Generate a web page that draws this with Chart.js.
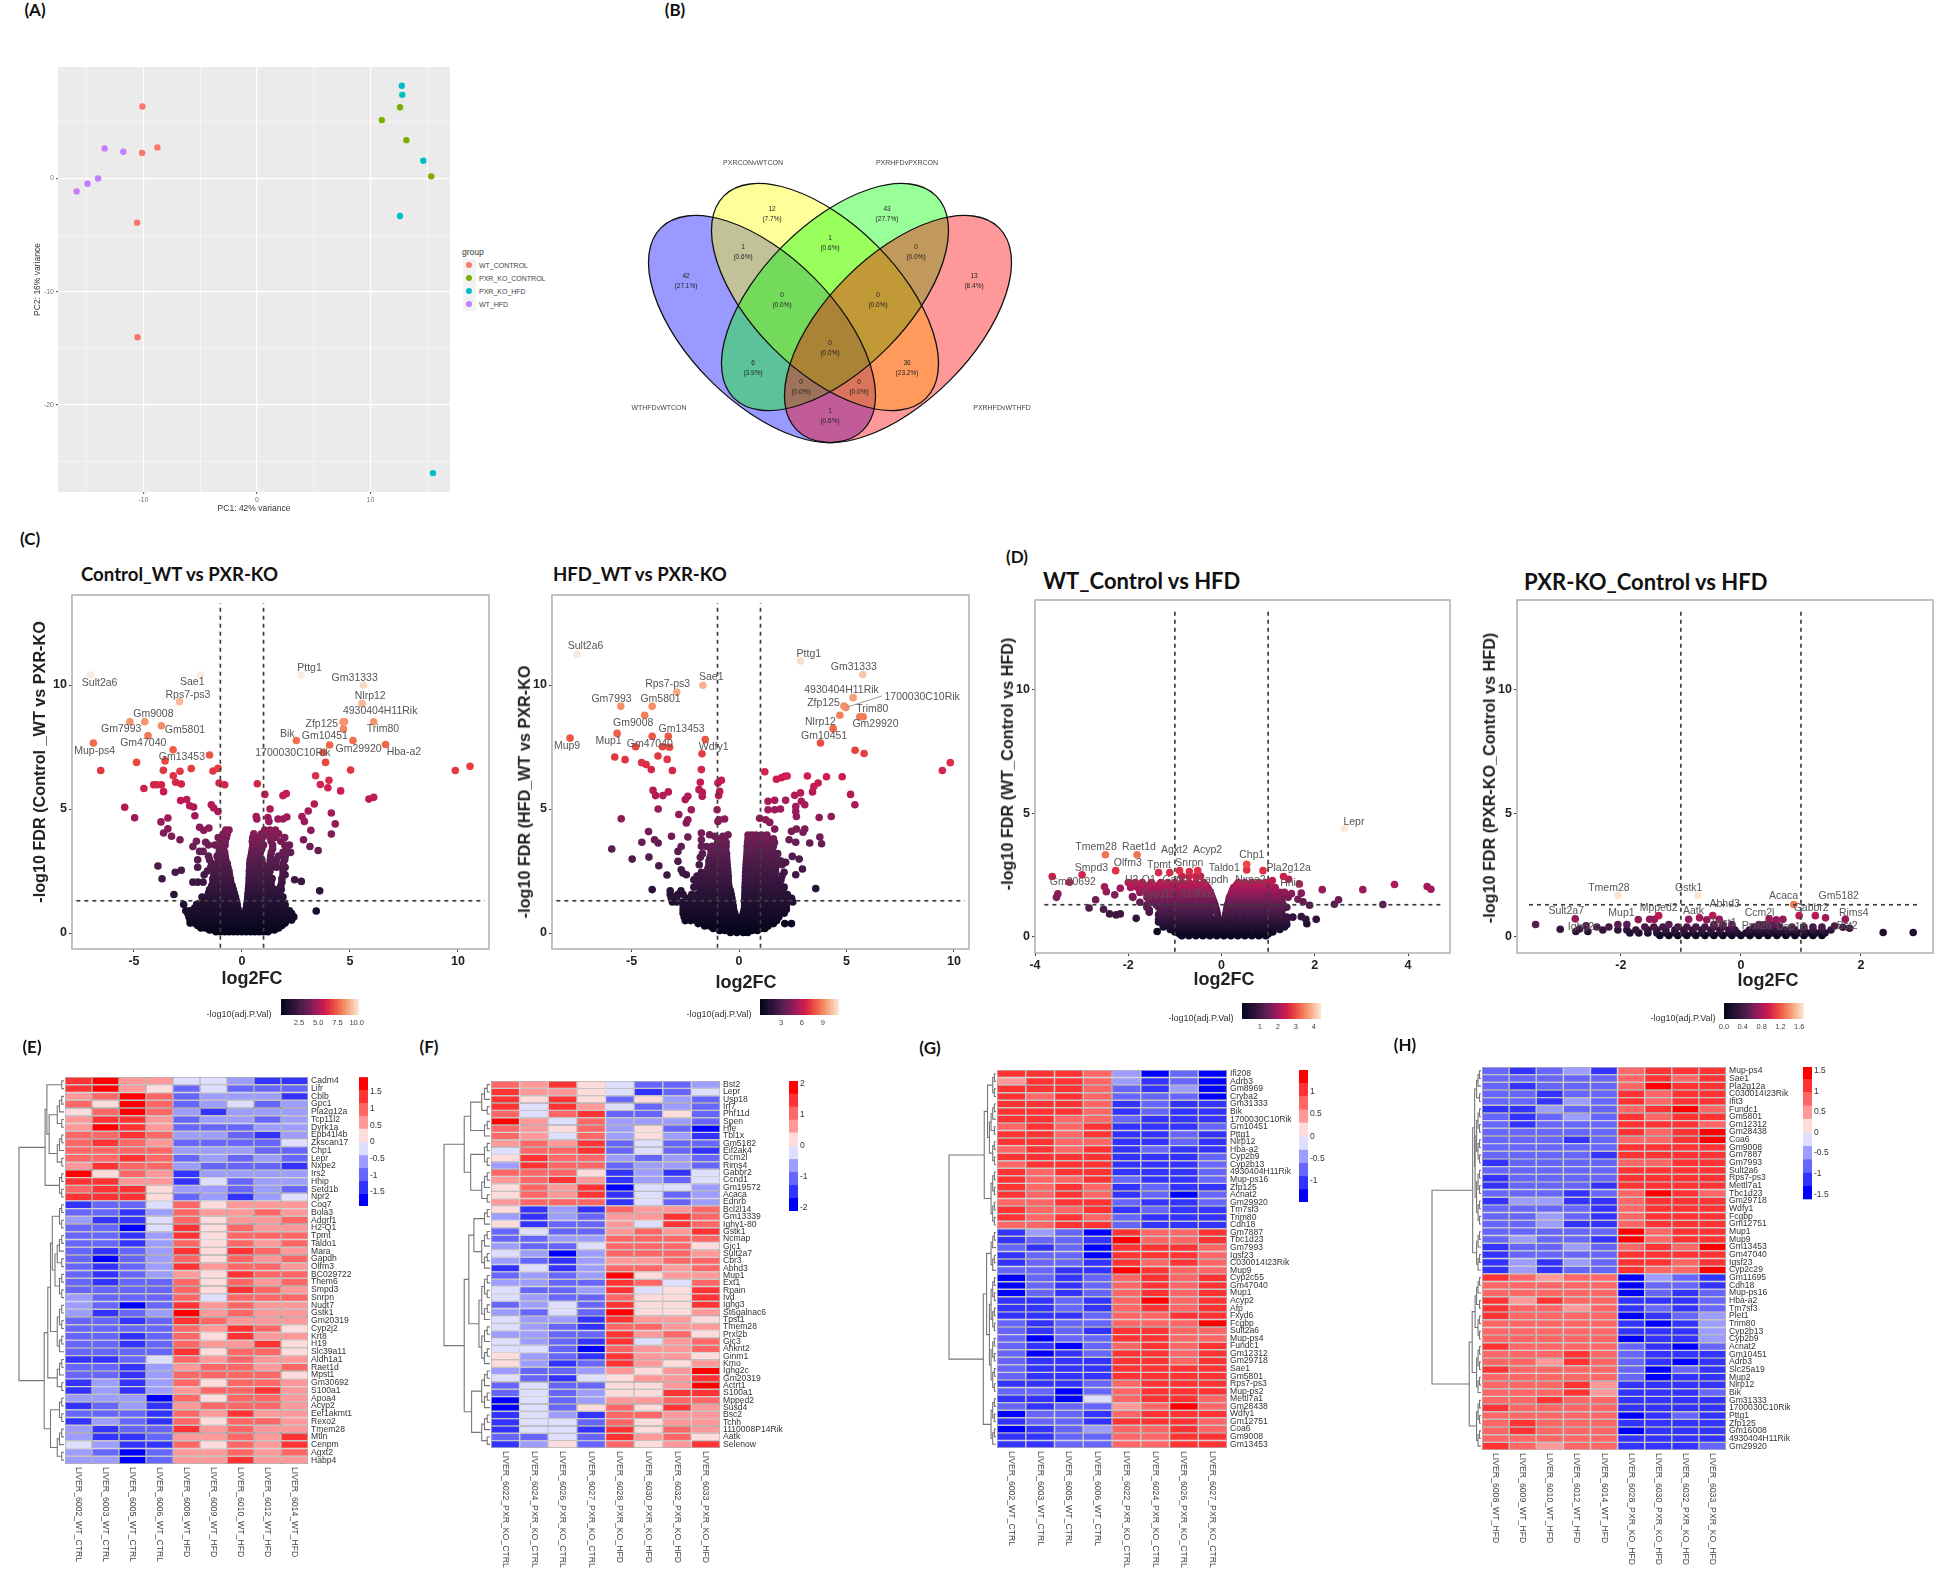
<!DOCTYPE html>
<html>
<head>
<meta charset="utf-8">
<title>PXR-KO liver figure</title>
<script src="https://cdn.jsdelivr.net/npm/chart.js@4"></script>
<style>
  html, body { margin: 0; background: #fff; }
  #page { position: relative; width: 1938px; height: 1576px; overflow: hidden; font-family: "Liberation Sans", Arial, sans-serif; }
  #page canvas { position: absolute; filter: blur(0.6px); }
  .txt { position: absolute; white-space: nowrap; line-height: 1; }
</style>
</head>
<body>
<div id="page"></div>
<script>
// ---------- PANEL A: PCA ----------
const pcaGroups = ['WT_CONTROL', 'PXR_KO_CONTROL', 'PXR_KO_HFD', 'WT_HFD'];
const pcaColors = ['#f8766d', '#7cae00', '#00bfc4', '#c77cff'];
const pcaWtControl = [[-10.07,6.35],[-8.75,2.74],[-10.1,2.24],[-10.54,-3.91],[-10.5,-14.03]];
const pcaKoControl = [[12.6,6.29],[11.0,5.15],[13.16,3.38],[15.35,0.18]];
const pcaKoHfd = [[12.76,8.18],[12.8,7.38],[14.65,1.56],[12.6,-3.32],[15.5,-26.03]];
const pcaWtHfd = [[-13.4,2.65],[-11.75,2.35],[-13.97,0],[-14.9,-0.47],[-15.86,-1.15]];

// ---------- PANEL B: VENN ----------
const vennSets = [['PXRCONvWTCON',153,63],['PXRHFDvPXRCON',307,63],['WTHFDvWTCON',59,308],['PXRHFDvWTHFD',402,308]];
const vennCounts = [
  ['12','(7.7%)',172,114],['43','(27.7%)',287,114],['1','(0.6%)',143,152],['1','(0.6%)',230,143],['0','(0.0%)',316,152],
  ['42','(27.1%)',86,181],['13','(8.4%)',374,181],['0','(0.0%)',182,200],['0','(0.0%)',278,200],['0','(0.0%)',230,248],
  ['6','(3.9%)',153,268],['36','(23.2%)',307,268],['0','(0.0%)',201,287],['0','(0.0%)',259,287],['1','(0.6%)',230,316]
];
// cx, cy, semi-major, semi-minor, rotation, colour (crop units)
const vennEllipses = [
  [162,229,143,73,45,'rgba(0,0,255,0.4)'],
  [225,197,143,73,45,'rgba(255,255,0,0.4)'],
  [235,197,143,73,-45,'rgba(0,255,0,0.4)'],
  [298,229,143,73,-45,'rgba(255,0,0,0.4)']
];

// ---------- PANEL C: CONTROL WT vs PXR-KO ----------
const volcCtrlPoints = [[-7,10.4],[-1.91,10.4],[-2.89,9.33],[2.73,10.39],[5.63,9.99],[5.56,9.25],[6.1,8.52],[4.75,8.52],[4.68,8.52],[4.7,8.23],[5.14,7.76],[6.65,7.6],[2.52,7.76],[4.06,7.58],[3.75,7.28],[3.87,6.88],[5.03,6.57],[9.88,6.55],[10.56,6.72],[-5.19,8.52],[-4.5,8.52],[-3.73,8.36],[-4.35,7.96],[-6.88,7.66],[-3.19,7.39],[-1.5,7.18],[-3.56,6.94],[-4.88,6.88],[-6.54,6.55],[-3.64,6.56],[-2.87,6.52],[-2.35,6.63],[-1.34,6.53],[-1.11,6.64],[-3.18,6.34],[-3.07,6.08],[-2.81,6.01],[-4.54,5.83],[-4.09,5.98],[-3.94,5.98],[-3.73,5.98],[-3.63,5.7],[-1.06,6.05],[-0.8,5.98],[0.71,6.02],[1.06,5.59],[1.9,5.54],[2.05,5.62],[3.41,6.34],[3.63,5.99],[4.03,6.16],[3.98,5.86],[4.57,5.73],[5.88,5.4],[6.1,5.47],[3.35,5.2],[3.07,4.92],[4.14,4.84],[2.78,4.7],[2.89,4.5],[4.32,4.4],[3.19,4.14],[4.14,3.99],[2.85,3.76],[3.15,3.49],[3.53,3.33],[1.3,5],[0.66,4.7],[0.69,4.6],[1.2,4.66],[1.25,4.5],[1.67,4.6],[1.9,4.6],[2.08,4.68],[-5.43,5.07],[-4.97,4.65],[-2.84,5.34],[-2.56,5.38],[-2.42,5.13],[-2.24,5.08],[-2.18,4.73],[-1.42,5.17],[-1.31,5.04],[-1.11,4.9],[-3.43,4.64],[-3.75,4.48],[-3.43,4.2],[-3.63,4.03],[-3.26,3.9],[-2.87,3.76],[-1.96,4.26],[-1.77,4.14],[-1.53,4.23],[-3.89,2.7],[-3.7,2.19],[-3.15,1.55],[3.6,1.7],[3.44,0.89],[-3.09,2.45],[-2.81,2.53],[2.44,2.15],[2.75,2.08],[-2.27,3.49],[-2.11,3.7],[-1.68,3.66],[-1.8,3.29],[-1.96,3.29]];
const volcCtrlCloud = [
  [4.15,-.75,-.6,1.05,1.3,1.55],
  [4,-.85,-.68,.55,.9,1.15,1.4,1.7],
  [3.85,-1.1,-.88,-.72,.5,.72,.95,1.3,1.55,1.98],
  [3.7,-1,-.78,.48,.7,.9,1.35,1.8],
  [3.55,-1.55,-1.25,-.92,-.78,.5,.75,1,1.42,1.98,2.2],
  [3.4,-1.05,-.85,.48,.68,.92,1.42,2.05],
  [3.25,-1.05,-.8,.45,.62,.85,1.36,1.9,2.05,2.25],
  [3.1,-1.55,-1.15,-.95,-.78,.42,.6,.82,1.33,1.7,2],
  [2.95,-2.05,-1.5,-1.1,-.92,-.75,.38,.55,.72,.92,1.31,1.6,1.98],
  [2.8,-1.4,-1.15,-.98,-.82,-.68,.36,.55,.75,.95,1.3,1.55,1.9],
  [2.65,-2.05,-1.45,-1.2,-1,-.82,-.65,.36,.52,.7,.88,1.1,1.35,1.6,1.9,2],
  [2.5,-1.6,-1.3,-1.1,-.9,-.75,-.6,.34,.5,.68,.86,1.05,1.3,1.9],
  [2.35,-1.75,-1.3,-1.1,-.9,-.72,-.58,.34,.48,.65,.82,1.02,1.25,1.9,2],
  [2.2,-1.35,-1.15,-.95,-.78,-.62,-.54,.33,.47,.63,.8,1,1.2,1.4,1.85],
  [2.05,-2.27,-2.05,-1.8,-1.34,-1.1,-.9,-.72,-.6,-.52,.33,.45,.6,.77,.95,1.15,1.35,1.85],
  [1.9,-1.4,-1.2,-1,-.82,-.66,-.52,-.45,.31,.43,.6,.78,.95,1.15,1.35,1.8],
  [1.75,-1.5,-1.3,-1.1,-.9,-.72,-.55,-.4,.3,.42,.58,.75,.92,1.1,1.3,1.55,1.82],
  [1.6,-1.55,-1.3,-1.1,-.9,-.72,-.55,-.35,.28,.4,.58,.75,.92,1.1,1.3,1.5,1.75],
  [1.45,-1.85,-1.6,-1.4,-1.2,-1,-.8,-.62,-.45,-.3,.27,.42,.6,.8,1,1.2,1.4,1.7,1.9],
  [1.3,-1.75,-1.5,-1.25,-1.05,-.85,-.65,-.45,-.26,.25,.42,.62,.82,1.02,1.22,1.42,1.65,1.85],
  [1.15,-2.7,-2.1,-1.85,-1.65,-1.45,-1.25,-1.05,-.85,-.65,-.45,-.22,.22,.42,.62,.82,1.02,1.22,1.42,1.62,1.82,2],
  [1,-2.2,-1.95,-1.7,-1.5,-1.3,-1.1,-.9,-.7,-.5,-.3,-.19,.2,.4,.6,.8,1,1.2,1.4,1.6,1.8,2],
  [.9,-2.6,-2.4,-2.1,-1.9,-1.7,-1.5,-1.3,-1.1,-.9,-.7,-.5,-.3,-.17,.18,.4,.6,.8,1,1.2,1.4,1.6,1.8,2,2.2],
  [.78,-2.5,-2.2,-2,-1.8,-1.6,-1.4,-1.2,-1,-.8,-.6,-.4,-.15,.15,.35,.55,.75,.95,1.15,1.35,1.55,1.75,1.95,2.3],
  [.65,-2.45,-2.25,-2.05,-1.85,-1.65,-1.45,-1.25,-1.05,-.85,-.65,-.45,-.25,-.12,.13,.3,.5,.7,.9,1.1,1.3,1.5,1.7,1.9,2.25,2.4],
  [.52,-2.4,-2.15,-1.95,-1.75,-1.55,-1.35,-1.15,-.95,-.75,-.55,-.35,-.1,.11,.3,.5,.7,.9,1.1,1.3,1.5,1.7,1.9,2.1,2.3],
  [.4,-2.4,-2.2,-2,-1.8,-1.6,-1.4,-1.2,-1,-.8,-.6,-.4,-.2,-.08,.1,.3,.5,.7,.9,1.1,1.3,1.5,1.7,2],
  [.3,-2.05,-1.85,-1.65,-1.45,-1.25,-1.05,-.85,-.65,-.45,-.25,-.06,.06,.25,.45,.65,.85,1.05,1.25,1.45,1.65,1.85],
  [.2,-1.9,-1.7,-1.5,-1.3,-1.1,-.9,-.7,-.5,-.3,-.1,.1,.3,.5,.7,.9,1.1,1.3,1.5,1.7],
  [.12,-1.5,-1.3,-1.1,-.9,-.7,-.5,-.3,-.1,.1,.3,.5,.7,.9,1.1,1.3,1.5],
  [.05,-1.2,-1,-.8,-.6,-.4,-.2,0,.2,.4,.6,.8,1,1.2]
];
const volcCtrlLabels = [['Sult2a6',-6.59,10.09],['Sae1',-2.3,10.12],['Rps7-ps3',-2.5,9.6],['Gm9008',-4.1,8.82],['Gm7993',-5.59,8.21],['Gm5801',-2.64,8.17],['Gm47040',-4.57,7.65],['Mup-ps4',-6.82,7.35],['Gm13453',-2.78,7.08],['Pttg1',3.13,10.69],['Gm31333',5.22,10.28],['Nlrp12',5.94,9.54],['4930404H11Rik',6.4,8.94],['Zfp125',3.7,8.44],['Trim80',6.53,8.21],['Bik',2.1,8.04],['Gm10451',3.84,7.93],['Gm29920',5.4,7.41],['Hba-a2',7.5,7.28],['1700030C10Rik',2.36,7.27]];

// ---------- PANEL C: HFD WT vs PXR-KO ----------
const volcHfdPoints = [[-7.53,11.24],[2.86,10.97],[5.76,10.42],[-1.68,9.99],[-2.9,9.72],[-5.5,9.14],[-4.04,9.14],[-4.39,8.78],[-5.67,8.05],[-4.04,7.93],[-3.29,7.93],[-7.86,7.86],[-1.57,7.8],[-4.81,7.51],[-3.56,7.51],[-3.23,7.49],[-3.77,7.14],[-3.34,7],[-5.78,7.1],[-5.3,6.99],[-1.72,7.23],[-4.53,6.87],[-4.32,6.79],[-4.08,6.59],[-3.1,6.55],[-1.75,6.59],[5.31,9.49],[4.88,9.15],[4.97,9.09],[4.69,8.78],[5.62,8.72],[5.78,8.72],[4.38,8.24],[3.79,7.66],[5.4,7.37],[5.82,7.24],[9.46,6.55],[9.83,6.87],[1.2,6.5],[1.74,6.2],[1.97,6.26],[2.13,6.32],[2.24,6.33],[3.18,6.33],[4.07,6.3],[4.8,6.3],[3.68,6.05],[3.48,5.91],[3.42,5.69],[2.86,5.65],[2.59,5.55],[2.17,5.35],[2.9,5.31],[3.06,5.17],[5.19,5.59],[5.39,5.17],[1.35,5.31],[1.66,5.35],[1.35,4.97],[1.66,4.97],[1.93,5],[2.64,5.1],[2.64,4.9],[2.67,4.7],[3.73,4.66],[4.29,4.7],[0.96,4.63],[1.24,4.57],[1.43,4.46],[1.66,4.19],[3.06,4.19],[2.98,4.06],[2.67,4.19],[2.44,4.1],[2.33,3.76],[2.64,3.66],[3.29,3.63],[3.76,3.87],[3.84,3.6],[2.48,3.09],[2.8,2.98],[2.17,2.85],[2.95,2.58],[2.64,2.35],[3.57,1.79],[2.13,0.38],[2.44,0.38],[-0.82,6.16],[-0.98,6.05],[-1.8,6.08],[-1.86,5.78],[-1.71,5.67],[-1.71,5.51],[-4,5.75],[-3.88,5.54],[-3.54,5.54],[-3.29,5.69],[-3.76,5],[-2.5,5.38],[-2.38,5.51],[-2.22,4.97],[-2.8,4.78],[-2.38,4.57],[-2.45,4.44],[-0.95,5.54],[-0.9,5.71],[-1.02,4.97],[-0.93,4.57],[-0.67,4.6],[-0.98,4.5],[-5.48,4.61],[-4.21,4.09],[-4.52,3.66],[-3.93,3.76],[-3.76,3.63],[-3.14,3.9],[-2.38,3.87],[-2.69,3.49],[-2.84,3.29],[-5.92,3.39],[-4.97,2.98],[-4.19,3.06],[-3.73,2.71],[-3.35,2.34],[-2.84,2.89],[-2.69,2.55],[-2.45,2.35],[-2.61,2.42],[-4.04,1.75],[-1.75,4.03],[-1.37,3.96],[-1.75,3.76],[-1.52,3.49],[-1.13,3.9],[-0.75,3.9],[-0.51,3.96]];
const volcHfdCloud = [
  [3.95,.42,.6,.8,1.05,1.3],
  [3.8,-.85,-.66,.42,.62,.85,1.1,1.35,1.6],
  [3.65,-1,-.72,-.6,.4,.6,.85,1.1,1.4,1.65],
  [3.5,-1.75,-1.25,-.95,-.75,-.6,.38,.58,.82,1.05,1.3,1.6],
  [3.35,-1.3,-1.05,-.85,-.62,.38,.55,.8,1.05,1.3,1.55],
  [3.2,-1.7,-1.3,-1.05,-.85,-.66,-.58,.37,.55,.78,1,1.25,1.5,1.8],
  [3.05,-1.8,-1.35,-1.1,-.88,-.7,-.58,.36,.52,.75,1,1.25,1.5,1.75],
  [2.9,-1.4,-1.15,-.92,-.72,-.56,.34,.5,.72,.96,1.2,1.45,1.7,1.95],
  [2.75,-1.85,-1.4,-1.15,-.92,-.72,-.55,.33,.48,.72,.96,1.2,1.45,1.7,2],
  [2.6,-1.45,-1.2,-.95,-.72,-.53,.32,.48,.7,.95,1.2,1.45,1.7],
  [2.45,-1.75,-1.45,-1.2,-.95,-.7,-.52,.31,.45,.7,.95,1.2,1.45,1.7,2.1],
  [2.3,-1.95,-1.6,-1.35,-1.1,-.85,-.65,-.5,.3,.45,.66,.9,1.15,1.4,1.65,2],
  [2.15,-2.1,-1.85,-1.6,-1.35,-1.1,-.85,-.62,-.5,.3,.42,.66,.9,1.15,1.4,1.65,1.95],
  [2,-1.95,-1.7,-1.45,-1.2,-.95,-.7,-.49,.29,.42,.64,.88,1.12,1.35,1.6,1.9],
  [1.85,-2.1,-1.85,-1.6,-1.35,-1.1,-.85,-.62,-.46,.28,.4,.62,.86,1.1,1.35,1.6,1.85,2.1],
  [1.7,-3.2,-2.7,-1.8,-1.55,-1.3,-1.05,-.8,-.55,-.4,.28,.38,.6,.84,1.08,1.32,1.56,1.8,2.05],
  [1.55,-3.2,-2.85,-2.6,-2.2,-1.95,-1.7,-1.45,-1.2,-.95,-.7,-.45,-.36,.27,.42,.65,.9,1.15,1.4,1.65,1.9,2.15,2.25],
  [1.4,-3.15,-2.9,-2.4,-2.1,-1.85,-1.6,-1.35,-1.1,-.85,-.6,-.33,.27,.45,.7,.95,1.2,1.45,1.7,1.95,2.2,2.45],
  [1.25,-3.1,-2.9,-2.6,-2.35,-2.05,-1.8,-1.55,-1.3,-1.05,-.8,-.55,-.3,.26,.45,.7,.95,1.2,1.45,1.7,1.95,2.2,2.5],
  [1.1,-2.6,-2.35,-2.1,-1.85,-1.6,-1.35,-1.1,-.85,-.6,-.4,-.27,.26,.45,.7,.95,1.2,1.45,1.7,1.95,2.2],
  [.95,-2.6,-2.4,-2.15,-1.9,-1.65,-1.4,-1.15,-.9,-.65,-.4,-.25,.24,.45,.7,.95,1.2,1.45,1.7,1.95,2.2],
  [.8,-2.6,-2.35,-2.1,-1.85,-1.6,-1.35,-1.1,-.85,-.6,-.35,-.2,.2,.35,.6,.85,1.1,1.35,1.6,1.85,2.1],
  [.65,-2.55,-2.3,-2.05,-1.8,-1.55,-1.3,-1.05,-.8,-.55,-.3,-.14,.14,.35,.6,.85,1.1,1.35,1.6,1.85],
  [.5,-2.5,-2.25,-2,-1.75,-1.5,-1.25,-1,-.75,-.5,-.25,-.1,.1,.25,.5,.75,1,1.25,1.5,1.75],
  [.38,-1.9,-1.65,-1.4,-1.15,-.9,-.65,-.4,-.15,.15,.4,.65,.9,1.15,1.4,1.6],
  [.28,-1.6,-1.35,-1.1,-.85,-.6,-.35,-.1,.1,.35,.6,.85,1.1,1.35],
  [.18,-1.2,-.95,-.7,-.45,-.2,0,.25,.5,.75,1,1.2],
  [.1,-.9,-.65,-.4,-.15,.1,.35,.6,.85],
  [.02,-.4,-.1,.2,.4]
];
const volcHfdLabels = [['Sult2a6',-7.14,11.56],['Pttg1',3.25,11.26],['Gm31333',5.34,10.71],['Sae1',-1.29,10.3],['Rps7-ps3',-3.32,10.03],['4930404H11Rik',4.77,9.78],['1700030C10Rik',8.52,9.53],['Gm7993',-5.93,9.42],['Gm5801',-3.65,9.42],['Zfp125',3.93,9.26],['Trim80',6.2,9.03],['Gm9008',-4.92,8.47],['Nlrp12',3.79,8.52],['Gm29920',6.35,8.41],['Gm13453',-2.67,8.24],['Gm10451',3.96,7.92],['Mup1',-6.07,7.72],['Gm47040',-4.15,7.62],['Mup9',-8,7.55],['Wdfy1',-1.18,7.5]];
const volcHfdLeader = [[4.97,9.09],[6.65,9.56]];

// ---------- PANEL D: WT CONTROL vs HFD ----------
const volcWtPoints = [[2.64,4.38],[-2.49,3.32],[-1.81,3.32],[.54,2.94],[.54,2.71],[.89,2.68],[-2.27,2.68],[-2.99,2.51],[-3.63,2.44],[-3.26,2.21],[-1.35,2.6],[-1.11,2.6],[-.9,2.68],[-.69,2.64],[-.51,2.68],[1.33,2.44],[1.44,2.33],[1.67,2.14],[1.09,2.28],[2.16,1.91],[3.03,1.91],[3.71,2.12],[4.41,2.04],[4.49,1.93],[3.46,1.31],[2.51,1.5],[2.42,1.32],[1.89,1.28],[1.5,1.75],[1.71,1.77],[1.43,1.6],[1.64,1.52],[1.75,1.42],[2.03,.71],[1.83,.53],[1.53,.8],[1.71,.82],[1.81,.71],[-3.51,1.74],[-3.54,1.6],[-2.84,1.17],[-2.7,1.5],[-2.53,1.12],[-2.4,.93],[-2.26,.89],[-2.17,.93],[-2.29,1.7],[-2.17,1.97],[-2.51,2.03],[-2.47,1.83],[-1.91,1.63],[-1.83,.75],[-1.38,.22]];
const volcWtCloud = [
  [2.45,-.85,-.7,-.55,-.45],
  [2.2,-2,-1.85,-1.7,-1.5,-1.3,-1.15,-1,-.85,-.7,-.55,-.38,.36,.5,.65,.8,.95],
  [2.1,-1.9,-1.75,-1.55,-1.35,-1.2,-1.05,-.9,-.75,-.6,-.45,-.34,.32,.46,.6,.75,.9,1.05],
  [2,-1.95,-1.8,-1.65,-1.5,-1.35,-1.2,-1.05,-.9,-.75,-.6,-.45,-.3,.26,.4,.55,.7,.85,1,1.15],
  [1.9,-1.75,-1.6,-1.45,-1.3,-1.15,-1,-.85,-.7,-.55,-.4,-.27,.24,.38,.53,.68,.83,.98,1.13],
  [1.8,-1.75,-1.6,-1.45,-1.3,-1.15,-1,-.85,-.7,-.55,-.4,-.24,.22,.36,.51,.66,.81,.96,1.11,1.25,1.35],
  [1.7,-1.55,-1.4,-1.25,-1.1,-.95,-.8,-.65,-.5,-.35,-.22,.2,.34,.49,.64,.79,.94,1.09,1.24],
  [1.6,-1.9,-1.6,-1.45,-1.3,-1.15,-1,-.85,-.7,-.55,-.4,-.2,.17,.32,.47,.62,.77,.92,1.07,1.22,1.3],
  [1.5,-1.45,-1.3,-1.15,-1,-.85,-.7,-.55,-.4,-.25,-.18,.16,.3,.45,.6,.75,.9,1.05,1.2],
  [1.4,-1.75,-1.5,-1.35,-1.2,-1.05,-.9,-.75,-.6,-.45,-.3,-.16,.15,.29,.44,.59,.74,.89,1.04,1.19,1.3],
  [1.3,-1.6,-1.4,-1.25,-1.1,-.95,-.8,-.65,-.5,-.35,-.2,-.14,.13,.27,.42,.57,.72,.87,1.02,1.17,1.32],
  [1.2,-1.6,-1.35,-1.2,-1.05,-.9,-.75,-.6,-.45,-.3,-.13,.12,.27,.42,.57,.72,.87,1.02,1.17,1.32,1.4],
  [1.1,-1.55,-1.3,-1.15,-1,-.85,-.7,-.55,-.4,-.25,-.11,.11,.25,.4,.55,.7,.85,1,1.15,1.3],
  [1,-1.55,-1.3,-1.15,-1,-.85,-.7,-.55,-.4,-.25,-.1,.1,.25,.4,.55,.7,.85,1,1.15,1.25],
  [.9,-1.35,-1.2,-1.05,-.9,-.75,-.6,-.45,-.3,-.09,.09,.25,.4,.55,.7,.85,1,1.15,1.3],
  [.8,-1.3,-1.15,-1,-.85,-.7,-.55,-.4,-.25,-.08,.08,.25,.4,.55,.7,.85,1,1.15,1.3,1.4],
  [.7,-1.35,-1.2,-1.05,-.9,-.75,-.6,-.45,-.3,-.15,-.06,.06,.2,.35,.5,.65,.8,.95,1.1,1.25,1.4],
  [.6,-1.35,-1.2,-1.05,-.9,-.75,-.6,-.45,-.3,-.15,-.05,.05,.15,.3,.45,.6,.75,.9,1.05,1.2,1.35],
  [.5,-1.25,-1.1,-.95,-.8,-.65,-.5,-.35,-.2,-.04,.04,.2,.35,.5,.65,.8,.95,1.1,1.25,1.4],
  [.4,-1.25,-1.1,-.95,-.8,-.65,-.5,-.35,-.2,-.03,.03,.2,.35,.5,.65,.8,.95,1.1,1.25,1.35],
  [.3,-1.1,-.95,-.8,-.65,-.5,-.35,-.2,-.05,.05,.2,.35,.5,.65,.8,.95,1.1,1.25],
  [.2,-1,-.85,-.7,-.55,-.4,-.25,-.1,.05,.2,.35,.5,.65,.8,.95,1.1],
  [.12,-.9,-.75,-.6,-.45,-.3,-.15,0,.15,.3,.45,.6,.75,.9,1],
  [.05,-.85,-.7,-.55,-.4,-.25,-.1,.05,.2,.35,.5,.65,.8,.95]
];
const volcWtLabels = [['Lepr',2.84,4.66],['Tmem28',-2.69,3.63],['Raet1d',-1.77,3.63],['Agxt2',-1.01,3.49],['Acyp2',-.3,3.49],['Chp1',.65,3.32],['Snrpn',-.69,2.98],['Olfm3',-2.01,3],['Tpmt',-1.34,2.9],['Smpd3',-2.79,2.79],['Taldo1',.06,2.78],['Pla2g12a',1.44,2.78],['Gm30692',-3.19,2.2],['H2-Q1',-1.74,2.28],['Gstk1',-.97,2.28],['Gapdh',-.19,2.28],['Nxpe2',.62,2.28],['Hhip',1.49,2.17],['Cyp2j2',-1.36,1.74],['S100a1',-.51,1.74]];

// ---------- PANEL D: PXR-KO CONTROL vs HFD ----------
const volcKoPoints = [[-2.05,1.68],[-.72,1.68],[.88,1.31],[-2.76,.73],[-3.42,.5],[-3.01,.31],[-1.71,.7],[-1.52,.71],[-1.44,.71],[-1.37,.86],[-.87,.71],[-.69,.77],[-.57,.69],[-.47,.86],[-.36,.71],[.47,.73],[.59,.69],[.7,.71],[.97,.86],[1.24,.86],[1.41,.77],[1.74,.71],[2.37,.18],[2.87,.18],[1.81,.35],[1.7,.39],[1.56,.44],[-2.58,.45],[-2.69,.32],[-2.55,.22],[-2.75,.22]];
const volcKoCloud = [
  [.5,-2.05,-1.9,-1.2,-.45,-.3,-.15,.3,.4,.5,.6],
  [.4,-2.4,-2.2,-1.6,-1.45,-1.3,-1.05,-.9,-.75,-.6,-.45,-.3,-.15,.22,.35,.5,.65,.85,1.05,1.2,1.35],
  [.28,-2.3,-2.05,-1.9,-1.75,-1.55,-1.4,-1.25,-1.1,-.95,-.8,-.65,-.5,-.35,-.2,-.1,.14,.3,.45,.6,.75,.9,1.05,1.2,1.35,1.5],
  [.16,-1.85,-1.7,-1.55,-1.4,-1.25,-1.1,-.95,-.8,-.65,-.5,-.35,-.2,-.06,.08,.22,.36,.5,.65,.8,.95,1.1,1.25,1.4],
  [.06,-1.35,-1.2,-1.05,-.9,-.75,-.6,-.45,-.3,-.15,0,.15,.3,.45,.6,.75,.9,1.05,1.2,1.35]
];
const volcKoLabels = [['Tmem28',-2.2,1.99],['Gstk1',-.87,1.99],['Acaca',.71,1.67],['Gm5182',1.63,1.67],['Abhd3',-.27,1.33],['Sult2a7',-2.91,1.05],['Mup1',-1.99,.98],['Mpped2',-1.37,1.16],['Aatk',-.79,1.05],['Ccm2l',.31,.98],['Gabbr2',1.17,1.16],['Rims4',1.88,.98],['Ighg2c',-2.62,.39],['Tpst1',-.29,.55],['Prxl2b',.26,.42],['Usp18',.84,.39],['Bst2',1.77,.42]];

// ---------- HEATMAPS: levels are the colour-key bins, -5 (deepest blue) to 5 (deepest red) ----------
const genesE = ['Cadm4','Lifr','Cblb','Gpc1','Pla2g12a','Tcp11l2','Dyrk1a','Epb41l4b','Zkscan17','Chp1','Lepr','Nxpe2','Irs2','Hhip','Setd1b','Npr2','Coq7','Bola3','Adgrf1','H2-Q1','Tpmt','Taldo1','Mara','Gapdh','Olfm3','BC029722','Them6','Smpd3','Snrpn','Nudt7','Gstk1','Gm20319','Cyp2j2','Krt8','H19','Slc39a11','Aldh1a1','Raet1d','Mpst1','Gm30692','S100a1','Apoa4','Acyp2','Eef1akmt1','Rexo2','Tmem28','Mtln','Cenpm','Agxt2','Habp4'];
const samplesE = ['LIVER_6002_WT_CTRL','LIVER_6003_WT_CTRL','LIVER_6005_WT_CTRL','LIVER_6006_WT_CTRL','LIVER_6008_WT_HFD','LIVER_6009_WT_HFD','LIVER_6010_WT_HFD','LIVER_6012_WT_HFD','LIVER_6014_WT_HFD'];
const heatE = [
[4,5,2,2,-1,-1,-2,-4,-4],[4,5,2,1,-3,-1,-3,-3,-3],[2,3,5,3,-3,-2,-2,-2,-4],[3,1,5,3,-3,-2,-1,-3,-2],[1,3,5,3,-2,-4,-2,-2,-2],
[2,4,4,2,-3,-2,-2,-3,-2],[2,5,4,2,-3,-3,-3,-2,-2],[3,3,4,3,-2,-2,-3,-4,-2],[3,4,3,2,-3,-3,-3,-3,-1],[3,3,3,3,-2,-2,-2,-3,-3],
[3,3,4,3,-3,-2,-3,-2,-3],[2,4,3,3,-2,-3,-3,-3,-4],[5,1,3,2,-4,-2,-2,-2,-2],[4,4,2,2,-4,-1,-3,-2,-2],[3,4,4,1,-2,-2,-3,-2,-3],
[4,4,4,1,-3,-2,-4,-2,-1],[-4,-3,-3,-1,3,1,2,2,2],[-3,-3,-4,-2,3,2,2,3,2],[-2,-4,-4,-1,3,1,2,2,3],[-3,-3,-5,-1,4,1,3,2,2],
[-3,-3,-4,-2,4,1,3,3,3],[-3,-3,-4,-2,3,1,3,2,3],[-3,-4,-3,-2,4,1,4,3,2],[-3,-5,-3,-2,3,1,3,2,3],[-3,-4,-3,-2,4,2,3,3,2],
[-3,-4,-3,-2,2,1,4,3,3],[-3,-4,-3,-3,3,1,3,2,3],[-3,-3,-3,-3,3,1,4,3,2],[-2,-3,-3,-3,3,-1,3,3,3],[-2,-3,-5,-3,4,2,3,2,2],
[-2,-4,-3,-2,5,2,3,2,2],[-3,-3,-4,-3,4,3,2,2,2],[-3,-3,-3,-3,3,2,4,3,1],[-3,-3,-4,-3,3,1,4,2,2],[-3,-3,-4,-3,3,2,2,4,1],
[-3,-3,-3,-3,4,1,3,3,1],[-4,-4,-3,-1,3,2,3,2,2],[-3,-3,-4,-2,2,3,3,2,3],[-3,-3,-4,-2,3,3,3,3,1],[-4,-2,-4,-2,3,1,3,3,2],
[-4,-2,-4,-2,2,3,3,4,2],[-2,-2,-2,-5,3,1,3,3,2],[-4,-3,-2,-4,2,3,3,3,2],[-3,-3,-3,-4,3,2,4,2,2],[-4,-2,-3,-4,3,1,3,3,2],
[-2,-4,-3,-3,4,2,3,2,2],[-2,-4,-4,-3,2,2,3,2,4],[-1,-2,-4,-4,3,1,3,2,4],[-2,-3,-5,-3,2,2,3,2,3],[-2,-2,-5,-3,2,2,4,2,2]];

const genesF = ['Bst2','Lepr','Usp18','Irf7','Phf11d','Spen','Hfe','Tbl1x','Gm5182','Eif2ak4','Ccm2l','Rims4','Gabbr2','Ccnd1','Gm19572','Acaca','Ednrb','Bcl2l14','Gm13339','Ighv1-80','Gstk1','Ncmap','Gjc1','Sult2a7','Cbr3','Abhd3','Mup1','Ext1','Rpain','Ivd','Ighg3','St6galnac6','Tpst1','Tmem28','Prxl2b','Gjc3','Ahknt2','Ginm1','Kmo','Ighg2c','Gm20319','Actrt1','S100a1','Mpped2','Susd4','Bsc2','Tchh','1110008P14Rik','Aatk','Selenow'];
const samplesF = ['LIVER_6022_PXR_KO_CTRL','LIVER_6024_PXR_KO_CTRL','LIVER_6026_PXR_KO_CTRL','LIVER_6027_PXR_KO_CTRL','LIVER_6028_PXR_KO_HFD','LIVER_6030_PXR_KO_HFD','LIVER_6032_PXR_KO_HFD','LIVER_6033_PXR_KO_HFD'];
const heatF = [
[3,2,4,1,-1,-3,-3,-2],[4,2,2,1,-1,-4,-3,-1],[4,1,4,1,-3,1,-2,-3],[4,-1,4,2,-1,-3,-2,-3],[3,-1,3,4,-3,-3,1,-3],
[5,2,-1,3,-2,-2,-2,-3],[3,2,1,3,-2,1,-3,-5],[3,2,-1,3,-2,1,-2,-4],[2,3,2,4,-3,-1,-3,-3],[-1,3,3,4,-3,-1,-3,-4],
[1,4,3,3,-2,-3,-2,-3],[-2,4,3,3,-3,-2,-2,-3],[3,3,3,1,-4,-2,-4,-1],[2,3,4,2,-4,-2,-3,-1],[1,3,2,4,-5,-1,-1,-2],
[1,3,2,4,-4,-1,-3,-2],[2,3,3,3,-4,-1,-3,-2],[1,-4,-2,-4,3,2,2,3],[-2,-4,-2,-3,2,2,4,3],[1,-4,-3,-3,2,-1,4,3],
[-3,-1,-3,-3,2,3,2,4],[-3,-3,-2,-2,3,3,3,3],[-2,-3,-3,-1,3,3,3,1],[-1,-2,-5,-2,3,3,3,2],[-2,-3,-4,-2,2,2,3,3],
[-4,-1,-4,-2,3,3,2,3],[-3,-2,-3,-2,5,1,2,2],[-2,-2,-3,-3,4,3,-1,3],[-1,-3,-3,-2,4,-1,1,4],[-1,-2,-3,-3,3,1,1,4],
[-3,-2,-1,-3,4,1,1,4],[-2,-3,-1,-3,5,1,1,2],[-1,-2,-2,-4,4,2,2,1],[-1,-2,-3,-4,3,3,2,2],[-2,-2,-3,-3,4,2,3,1],
[-1,-2,-3,-4,4,-1,2,3],[-1,-1,-3,-5,3,2,2,3],[1,-2,-3,-4,4,2,2,1],[1,-2,-4,-3,4,2,1,2],[-2,-3,-3,-2,2,1,2,5],
[-1,-3,-4,-1,1,2,2,4],[-3,-1,-3,-3,1,1,2,5],[-3,-1,-3,-2,1,1,4,4],[-5,-1,-3,-2,2,2,3,3],[-5,-1,-3,1,3,1,4,2],
[-4,-1,-2,-4,3,3,2,2],[-4,-1,-1,-3,3,1,2,2],[-4,-1,-1,-4,4,1,3,2],[-3,-3,-1,-3,4,2,3,1],[-4,-2,1,-3,3,1,2,4]];

const genesG = ['Ifi208','Adrb3','Gm8969','Cryba2','Gm31333','Bik','1700030C10Rik','Gm10451','Pttg1','Nlrp12','Hba-a2','Cyp2b9','Cyp2b13','4930404H11Rik','Mup-ps16','Zfp125','Acnat2','Gm29920','Tm7sf3','Trim80','Cdh18','Gm7887','Tbc1d23','Gm7993','Igsf23','C030014I23Rik','Mup9','Cyp2c55','Gm47040','Mup1','Acyp2','Afp','Fxyd6','Fcgbp','Sult2a6','Mup-ps4','Fundc1','Gm12312','Gm29718','Sae1','Gm5801','Rps7-ps3','Mup-ps2','Mettl7a1','Gm28438','Wdfy1','Gm12751','Coa6','Gm9008','Gm13453'];
const samplesG = ['LIVER_6002_WT_CTRL','LIVER_6003_WT_CTRL','LIVER_6005_WT_CTRL','LIVER_6006_WT_CTRL','LIVER_6022_PXR_KO_CTRL','LIVER_6024_PXR_KO_CTRL','LIVER_6026_PXR_KO_CTRL','LIVER_6027_PXR_KO_CTRL'];
const heatG = [
[4,4,4,3,-2,-5,-3,-5],[2,4,4,3,-2,-4,-3,-5],[4,4,4,3,-3,-4,-2,-5],[4,3,4,3,-3,-3,-3,-5],[4,4,4,3,-4,-3,-4,-4],
[4,4,4,3,-4,-3,-4,-4],[4,4,3,3,-3,-4,-4,-4],[3,4,3,4,-4,-4,-4,-3],[4,4,3,4,-4,-4,-3,-4],[4,4,3,3,-4,-4,-3,-4],
[3,4,3,4,-4,-3,-4,-4],[4,4,4,4,-4,-4,-4,-3],[3,4,4,4,-4,-4,-4,-3],[4,3,4,4,-4,-4,-4,-3],[4,3,3,4,-3,-4,-4,-3],
[4,3,4,3,-4,-3,-4,-4],[4,3,4,3,-4,-3,-5,-3],[3,3,4,4,-3,-4,-4,-3],[4,3,3,4,-4,-3,-4,-4],[4,3,4,3,-3,-4,-4,-4],
[3,3,4,4,-3,-4,-4,-4],[-4,-2,-3,-5,4,3,3,4],[-4,-3,-3,-4,5,3,3,4],[-3,-4,-3,-5,4,4,4,3],[-4,-3,-3,-5,4,4,4,3],
[-4,-3,-3,-4,4,3,4,3],[-3,-3,-4,-4,5,4,3,3],[-5,-3,-4,-3,3,4,3,4],[-5,-3,-4,-3,3,4,3,4],[-5,-3,-4,-3,3,4,3,4],
[-4,-4,-3,-4,3,5,3,4],[-4,-4,-3,-4,3,4,3,4],[-4,-4,-4,-3,3,3,4,4],[-3,-4,-3,-3,3,3,3,5],[-3,-4,-3,-4,4,4,3,3],
[-3,-5,-3,-3,4,4,3,3],[-3,-4,-5,-3,3,4,3,4],[-3,-5,-4,-3,4,4,3,4],[-3,-4,-4,-4,4,4,3,4],[-3,-4,-4,-4,4,4,4,4],
[-3,-4,-4,-4,4,4,4,4],[-4,-4,-4,-3,3,4,4,4],[-3,-3,-5,-3,3,4,4,4],[-4,-4,-5,-1,3,4,4,3],[-3,-4,-3,-3,2,3,5,3],
[-5,-3,-3,-4,3,4,4,4],[-4,-3,-3,-4,4,4,4,3],[-5,-4,-3,-2,3,3,4,3],[-4,-4,-3,-3,3,3,4,4],[-4,-4,-3,-3,3,3,4,4]];

const genesH = ['Mup-ps4','Sae1','Pla2g12a','C030014I23Rik','Ifit3','Fundc1','Gm5801','Gm12312','Gm28438','Coa6','Gm9008','Gm7887','Gm7993','Sult2a6','Rps7-ps3','Mettl7a1','Tbc1d23','Gm29718','Wdfy1','Fcgbp','Gm12751','Mup1','Mup9','Gm13453','Gm47040','Igsf23','Cyp2c29','Gm11695','Cdh18','Mup-ps16','Hba-a2','Tm7sf3','Plet1','Trim80','Cyp2b13','Cyp2b9','Acnat2','Gm10451','Adrb3','Slc25a19','Mup2','Nlrp12','Bik','Gm31333','1700030C10Rik','Pttg1','Zfp125','Gm16008','4930404H11Rik','Gm29920'];
const samplesH = ['LIVER_6008_WT_HFD','LIVER_6009_WT_HFD','LIVER_6010_WT_HFD','LIVER_6012_WT_HFD','LIVER_6014_WT_HFD','LIVER_6028_PXR_KO_HFD','LIVER_6030_PXR_KO_HFD','LIVER_6032_PXR_KO_HFD','LIVER_6033_PXR_KO_HFD'];
const heatH = [
[-3,-4,-3,-2,-4,3,4,4,4],[-3,-3,-3,-3,-3,3,4,3,4],[-3,-4,-3,-3,-3,3,5,4,4],[-3,-3,-4,-3,-3,4,3,4,4],[-3,-3,-4,-2,-3,4,3,4,4],
[-4,-4,-2,-3,-3,3,4,5,3],[-3,-4,-3,-2,-3,4,3,4,4],[-3,-4,-3,-3,-3,4,4,4,3],[-3,-3,-3,-3,-3,4,3,4,5],[-3,-3,-3,-4,-3,3,3,4,5],
[-3,-3,-3,-3,-3,4,4,4,4],[-3,-3,-3,-3,-4,4,4,4,4],[-4,-3,-3,-3,-3,3,3,4,4],[-3,-3,-3,-3,-3,4,4,4,4],[-4,-3,-3,-3,-3,4,4,4,4],
[-4,-3,-3,-3,-4,4,4,4,4],[-3,-3,-3,-4,-3,3,5,4,3],[-4,-2,-2,-4,-4,3,4,4,4],[-3,-3,-3,-3,-4,3,4,4,4],[-3,-3,-2,-3,-4,3,4,4,4],
[-3,-3,-2,-4,-4,3,4,4,4],[-3,-3,-3,-3,-3,5,3,4,4],[-3,-2,-3,-3,-4,5,3,4,4],[-4,-3,-3,-2,-3,3,4,3,5],[-4,-3,-3,-3,-3,4,4,4,4],
[-4,-2,-4,-2,-3,4,4,3,4],[-4,-2,-4,-3,-3,4,3,3,5],[4,3,2,3,3,-5,-2,-3,-4],[3,3,3,3,3,-5,-3,-3,-4],[3,3,3,3,3,-5,-3,-4,-3],
[4,2,4,3,3,-4,-4,-4,-3],[4,3,3,2,3,-4,-3,-4,-3],[4,3,3,3,3,-5,-4,-3,-2],[3,3,3,3,3,-4,-5,-4,-2],[3,3,3,3,3,-4,-4,-4,-2],
[3,3,3,3,3,-5,-4,-4,-2],[4,3,3,3,3,-3,-4,-5,-3],[3,3,3,4,3,-3,-4,-4,-4],[3,3,2,4,3,-3,-4,-5,-4],[4,3,3,3,3,-3,-5,-3,-4],
[3,3,3,3,3,-3,-5,-4,-4],[3,3,3,4,2,-4,-4,-4,-4],[3,3,3,4,2,-4,-4,-4,-3],[3,3,4,3,3,-4,-4,-4,-4],[4,3,3,3,3,-4,-4,-4,-4],
[3,3,3,3,3,-5,-4,-3,-4],[3,4,3,3,3,-4,-4,-4,-4],[3,4,3,3,3,-5,-4,-4,-4],[3,3,3,3,3,-4,-4,-4,-4],[4,3,2,3,3,-4,-4,-4,-3]];

// dendrograms: [height, left, right]; a plain number is that many rows joined tightly
const treeE = [1,[.42,[.38,2,[.33,5,5]],4],[.44,[.36,[.3,[.26,4,9],7],5],[.3,4,5]]];
const treeF = [1,[.56,[.42,5,3],[.42,4,5]],[.56,[.46,[.35,3,6],13],[.4,6,5]]];
const treeG = [1,[.25,[.18,4,9],8],[.27,[.2,6,16],7]];
const treeH = [1,[.17,[.13,5,16],6],[.24,[.18,9,7],7]];

const keyTicksE = [1.5,1,.5,0,-.5,-1,-1.5];
const keyTicksF = [2,1,0,-1,-2];
const keyTicksG = [1,.5,0,-.5,-1];
const keyTicksH = [1.5,1,.5,0,-.5,-1,-1.5];
const heatLevels = [1,2,3,4,5,-1,-2,-3,-4,-5];
const heatColors = {'5':'#ff0000','4':'#ff3333','3':'#ff6666','2':'#ff9999','1':'#ffdcdc','-1':'#dedeff','-2':'#9d9dff','-3':'#6666ff','-4':'#3333ff','-5':'#0000ff'};

// ---------- SHARED ----------
Chart.defaults.font.family = '"Liberation Sans", Arial, sans-serif';
Chart.defaults.animation = false;
Chart.defaults.responsive = false;
Chart.defaults.layout.autoPadding = false;
Chart.defaults.plugins.legend.display = false;
Chart.defaults.plugins.tooltip.enabled = false;

const page = document.getElementById('page');
const rocketStops = [[0,[3,5,26]],[.15,[43,19,56]],[.3,[91,30,81]],[.45,[161,26,91]],[.55,[203,27,79]],[.65,[232,63,63]],[.75,[243,112,79]],[.85,[246,164,123]],[1,[250,235,221]]];

function rocket(t) {
  t = Math.max(0, Math.min(1, t));
  for (let i = 1; i < rocketStops.length; i++) {
    const [t1, c1] = rocketStops[i];
    const [t0, c0] = rocketStops[i - 1];
    if (t <= t1) {
      const f = (t - t0) / (t1 - t0);
      return `rgb(${c0.map((c, k) => Math.round(c + (c1[k] - c) * f)).join(',')})`;
    }
  }
  return 'rgb(250,235,221)';
}

function put(text, x, y, css, rotate) {
  const el = document.createElement('div');
  el.className = 'txt';
  el.textContent = text;
  el.style.cssText = css;
  el.style.left = x + 'px';
  el.style.top = y + 'px';
  el.style.transform = `translate(-50%,-50%)` + (rotate ? ` rotate(${rotate}deg)` : '');
  page.appendChild(el);
}
function putLeft(text, x, y, css) {
  const el = document.createElement('div');
  el.className = 'txt';
  el.textContent = text;
  el.style.cssText = css;
  el.style.left = x + 'px';
  el.style.top = y + 'px';
  el.style.transform = 'translateY(-50%)';
  page.appendChild(el);
}

// plot is the inner box in page pixels, m the room kept around it for axes
function makeCanvas(plot, m) {
  const c = document.createElement('canvas');
  c.width = plot.x1 - plot.x0 + m.l + m.r;
  c.height = plot.y1 - plot.y0 + m.t + m.b;
  c.style.left = (plot.x0 - m.l) + 'px';
  c.style.top = (plot.y0 - m.t) + 'px';
  page.appendChild(c);
  return c;
}

// fixed axis boxes, no extra room for edge labels, so the plot area lands exactly
const pinHeight = h => s => { s.height = h; s.paddingLeft = 0; s.paddingRight = 0; };
const pinWidth = w => s => { s.width = w; s.paddingTop = 0; s.paddingBottom = 0; };

function labelPlugin(items, font, color) {
  return {
    id: 'labels',
    afterDatasetsDraw(chart) {
      const { ctx, scales: { x, y } } = chart;
      ctx.save();
      ctx.font = font;
      ctx.fillStyle = color;
      ctx.textAlign = 'center';
      ctx.textBaseline = 'middle';
      items.forEach(([t, vx, vy]) => ctx.fillText(t, x.getPixelForValue(vx), y.getPixelForValue(vy)));
      ctx.restore();
    }
  };
}

const framePlugin = {
  id: 'frame',
  afterDraw(chart) {
    const { ctx, chartArea: a } = chart;
    ctx.save();
    ctx.strokeStyle = '#b4b4b4';
    ctx.lineWidth = 1.6;
    ctx.strokeRect(a.left, a.top, a.right - a.left, a.bottom - a.top);
    ctx.restore();
  }
};

// ---------- PANEL A ----------
function drawPca() {
  const plot = { x0: 58, y0: 67, x1: 450, y1: 492 };
  const sets = [pcaWtControl, pcaKoControl, pcaKoHfd, pcaWtHfd];
  const panelBg = {
    id: 'panelBg',
    beforeDraw(chart) {
      const { ctx, chartArea: a } = chart;
      ctx.fillStyle = '#ebebeb';
      ctx.fillRect(a.left, a.top, a.right - a.left, a.bottom - a.top);
    }
  };
  const axis = (min, max, title) => ({
    type: 'linear', min, max,
    grid: {
      color: '#ffffff',
      lineWidth: c => (c.tick.value % 10 === 0 ? 1.2 : 0.5),
      tickColor: c => (c.tick.value % 10 === 0 ? '#666' : 'transparent'),
      tickLength: 2
    },
    border: { display: false },
    ticks: {
      stepSize: 5, includeBounds: false, autoSkip: false, maxRotation: 0, color: '#777', padding: 2,
      font: { size: 7 }, callback: v => (v % 10 === 0 ? String(v) : '')
    },
    title: { display: true, text: title, color: '#333', font: { size: 8.5 }, padding: 0 }
  });
  const xAxis = axis(-17.5, 17, 'PC1: 42% variance');
  xAxis.afterFit = pinHeight(22);
  const yAxis = axis(-27.7, 9.84, 'PC2: 16% variance');
  yAxis.afterFit = pinWidth(25);
  new Chart(makeCanvas(plot, { l: 25, r: 0, t: 0, b: 22 }), {
    type: 'scatter',
    data: {
      datasets: sets.map((pts, i) => ({
        label: pcaGroups[i],
        data: pts.map(([x, y]) => ({ x, y })),
        backgroundColor: pcaColors[i],
        borderWidth: 0,
        pointRadius: 3.2
      }))
    },
    options: { scales: { x: xAxis, y: yAxis } },
    plugins: [panelBg]
  });
  putLeft('group', 462, 252, 'font-size:8.5px;color:#333');
  pcaGroups.forEach((g, i) => {
    const yy = 265 + i * 13;
    const key = document.createElement('div');
    key.style.cssText = `position:absolute;left:463px;top:${yy - 6.5}px;width:13px;height:13px;background:#f2f2f2`;
    page.appendChild(key);
    const dot = document.createElement('div');
    dot.style.cssText = `position:absolute;left:466px;top:${yy - 3}px;width:6px;height:6px;border-radius:50%;background:${pcaColors[i]};filter:blur(.4px)`;
    page.appendChild(dot);
    putLeft(g, 479, yy, 'font-size:7px;color:#444');
  });
}

// ---------- PANEL B ----------
function drawVenn() {
  const plot = { x0: 600, y0: 100, x1: 1080, y1: 500 };
  const ellipses = {
    id: 'ellipses',
    beforeDatasetsDraw(chart) {
      const { ctx, scales: { x, y } } = chart;
      const unit = x.getPixelForValue(1) - x.getPixelForValue(0);
      const path = ([cx, cy, a, b, rot]) => {
        ctx.beginPath();
        ctx.ellipse(x.getPixelForValue(cx), y.getPixelForValue(cy), a * unit, b * unit, rot * Math.PI / 180, 0, Math.PI * 2);
      };
      ctx.save();
      vennEllipses.forEach(e => { path(e); ctx.fillStyle = e[5]; ctx.fill(); });
      ctx.strokeStyle = '#111';
      ctx.lineWidth = 1.3;
      vennEllipses.forEach(e => { path(e); ctx.stroke(); });
      ctx.restore();
    }
  };
  const items = vennCounts.flatMap(([n, pct, x, y]) => [[n, x, y - 5], [pct, x, y + 5]]);
  new Chart(makeCanvas(plot, { l: 0, r: 0, t: 0, b: 0 }), {
    type: 'scatter',
    data: { datasets: [{ data: vennCounts.map(([, , x, y]) => ({ x, y })), pointRadius: 0 }] },
    options: {
      scales: {
        x: { type: 'linear', min: 0, max: 480, display: false },
        y: { type: 'linear', min: 0, max: 400, reverse: true, display: false }
      }
    },
    plugins: [ellipses, labelPlugin(items, '6.5px "Liberation Sans"', '#222'), labelPlugin(vennSets, '7px "Liberation Sans"', '#444')]
  });
}

// ---------- VOLCANOES ----------
function drawVolcano(cfg) {
  const { plot, xr, yr, points, cloud, labels, top, leader } = cfg;
  const all = points.map(([x, y]) => ({ x, y })).concat(cloud.flatMap(([y, ...xs]) => xs.map(x => ({ x, y }))));
  all.sort((a, b) => a.y - b.y);
  const dashed = (data) => ({
    data, showLine: true, pointRadius: 0, borderColor: '#3f3f3f', borderWidth: 1.7, borderDash: [4, 4], order: 1
  });
  const axisOpts = (min, max, step) => ({
    type: 'linear', min, max,
    grid: { drawOnChartArea: false, tickLength: 3, tickColor: '#444' },
    border: { display: false },
    ticks: { stepSize: step, includeBounds: false, maxRotation: 0, color: '#222', padding: 2, font: { size: 12.5, weight: 'bold' } }
  });
  const xAxis = axisOpts(xr[0], xr[1], cfg.xStep);
  xAxis.afterFit = pinHeight(24);
  const yAxis = axisOpts(yr[0], yr[1], 5);
  yAxis.afterFit = pinWidth(30);
  const datasets = [
    { data: all, backgroundColor: c => rocket(c.raw.y / top), borderWidth: 0, pointRadius: 3.8, order: 3 },
    dashed([{ x: -1, y: yr[0] + .05 }, { x: -1, y: 13.3 }]),
    dashed([{ x: 1, y: yr[0] + .05 }, { x: 1, y: 13.3 }]),
    dashed([{ x: xr[0] + .2, y: 1.3 }, { x: xr[1] - .2, y: 1.3 }])
  ];
  if (leader) {
    datasets.push({ data: leader.map(([x, y]) => ({ x, y })), showLine: true, pointRadius: 0, borderColor: '#999', borderWidth: 1, order: 2 });
  }
  new Chart(makeCanvas(plot, { l: 30, r: 2, t: 2, b: 24 }), {
    type: 'scatter',
    data: { datasets },
    options: { layout: { padding: { top: 2, right: 2 } }, scales: { x: xAxis, y: yAxis } },
    plugins: [framePlugin, labelPlugin(labels, '10.5px "Liberation Sans"', '#555')]
  });
  put(cfg.xTitle[0], cfg.xTitle[1], cfg.xTitle[2], 'font-size:18px;font-weight:bold;color:#222');
  put(cfg.yTitle[0], cfg.yTitle[1], cfg.yTitle[2], 'font-size:16.2px;font-weight:bold;color:#222', -90);
  putLeft(cfg.title[0], cfg.title[1], cfg.title[2], `font-family:Lato;font-size:${cfg.title[3]}px;font-weight:bold;color:#111`);
  drawRocketKey(cfg.key);
}

// horizontal colour key for a volcano, stacked segments on a linear axis
function drawRocketKey(key) {
  const { x0, x1, y0, min, max, ticks, right } = key;
  const plot = { x0, x1, y0, y1: y0 + 16 };
  const shades = Array.from({ length: 28 }, (_, i) => rocket((i + .5) / 28));
  const seg = (max - min) / 28;
  new Chart(makeCanvas(plot, { l: 8, r: 8, t: 0, b: 16 }), {
    type: 'bar',
    data: {
      labels: ['key'],
      datasets: shades.map((c, i) => ({ data: [i === 0 ? min + seg : seg], backgroundColor: c, borderWidth: 0, stack: 's' }))
    },
    options: {
      indexAxis: 'y',
      layout: { padding: { left: 8, right: 8 } },
      datasets: { bar: { barPercentage: 1, categoryPercentage: 1 } },
      scales: {
        y: { display: false, stacked: true },
        x: {
          type: 'linear', stacked: true, min, max, afterFit: pinHeight(16),
          afterBuildTicks: s => { s.ticks = ticks.map(v => ({ value: v })); },
          grid: { display: false, drawTicks: false }, border: { display: false },
          ticks: { color: '#444', padding: 3, maxRotation: 0, font: { size: 7.5 }, callback: v => key.fmt(v) }
        }
      }
    }
  });
  put('-log10(adj.P.Val)', right - 36, y0 + 15, 'font-size:9px;color:#333');
}

// ---------- HEATMAPS ----------
function tightTree(n, scale) {
  if (n === 1) return 1;
  const a = Math.ceil(n / 2);
  return [scale * Math.ceil(Math.log2(n)), tightTree(a, scale), tightTree(n - a, scale)];
}

function dendroPlugin(tree, width, scale) {
  return {
    id: 'dendro',
    afterDraw(chart) {
      const { ctx, chartArea: a, scales: { y } } = chart;
      const x0 = a.left - 1;
      let row = 0;
      ctx.save();
      ctx.strokeStyle = '#777';
      ctx.lineWidth = 1.1;
      const walk = node => {
        if (typeof node === 'number' && node > 1) node = tightTree(node, scale);
        if (node === 1) {
          const py = y.getPixelForValue(row++);
          return { py, px: x0 };
        }
        const l = walk(node[1]);
        const r = walk(node[2]);
        const px = x0 - node[0] * width;
        ctx.beginPath();
        ctx.moveTo(l.px, l.py);
        ctx.lineTo(px, l.py);
        ctx.lineTo(px, r.py);
        ctx.lineTo(r.px, r.py);
        ctx.stroke();
        return { py: (l.py + r.py) / 2, px };
      };
      walk(tree);
      ctx.restore();
    }
  };
}

function sampleLabels(samples) {
  return {
    id: 'samples',
    afterDraw(chart) {
      const { ctx, chartArea: a, scales: { x } } = chart;
      ctx.save();
      ctx.font = '8.7px "Liberation Sans"';
      ctx.fillStyle = '#444';
      ctx.textAlign = 'left';
      ctx.textBaseline = 'middle';
      samples.forEach((s, i) => {
        ctx.save();
        ctx.translate(x.getPixelForValue(i + .5), a.bottom + 3);
        ctx.rotate(Math.PI / 2);
        ctx.fillText(s, 0, 0);
        ctx.restore();
      });
      ctx.restore();
    }
  };
}

function drawHeat(cfg) {
  const { plot, genes, samples, matrix, tree, dendroW, scale, key, letter } = cfg;
  const m = { l: dendroW + 6, r: 90, t: 1, b: 120 };
  const yAxis = {
    type: 'category', position: 'right', stacked: true,
    afterFit: pinWidth(m.r),
    grid: { display: false, drawTicks: false }, border: { display: false },
    ticks: { autoSkip: false, color: '#333', padding: 3, font: { size: 8.6 } }
  };
  new Chart(makeCanvas(plot, m), {
    type: 'bar',
    data: {
      labels: genes,
      datasets: samples.map((s, j) => ({
        label: s,
        data: genes.map(() => 1),
        backgroundColor: matrix.map(r => heatColors[r[j]]),
        borderColor: '#9a9a9a',
        borderWidth: 0.7,
        borderSkipped: false,
        inflateAmount: 0
      }))
    },
    options: {
      indexAxis: 'y',
      layout: { padding: { left: m.l, top: m.t, bottom: m.b } },
      datasets: { bar: { barPercentage: 1, categoryPercentage: 1 } },
      scales: { x: { type: 'linear', display: false, stacked: true, min: 0, max: samples.length }, y: yAxis }
    },
    plugins: [dendroPlugin(tree, dendroW, scale), sampleLabels(samples)]
  });
  drawHeatKey(key);
  put(letter[0], letter[1], letter[2], 'font-family:Lato;font-size:17px;font-weight:bold;color:#111');
}

// vertical colour key: ten stacked bins around zero on a linear axis
function drawHeatKey(key) {
  const { x0, y0, y1, min, max, bin, ticks } = key;
  const plot = { x0, x1: x0 + 9, y0, y1 };
  new Chart(makeCanvas(plot, { l: 0, r: 28, t: 4, b: 4 }), {
    type: 'bar',
    data: {
      labels: ['key'],
      datasets: heatLevels.map(l => ({
        label: String(l), data: [l > 0 ? bin : -bin], backgroundColor: heatColors[l], borderWidth: 0, stack: 's'
      }))
    },
    options: {
      layout: { padding: { top: 4, bottom: 4 } },
      datasets: { bar: { barPercentage: 1, categoryPercentage: 1 } },
      scales: {
        x: { display: false, stacked: true },
        y: {
          type: 'linear', position: 'right', stacked: true, min, max,
          afterFit: pinWidth(28),
          afterBuildTicks: s => { s.ticks = ticks.map(v => ({ value: v })); },
          grid: { display: false, drawTicks: false }, border: { display: false },
          ticks: { color: '#333', padding: 2, font: { size: 8.5 }, callback: v => String(v) }
        }
      }
    }
  });
}

// ---------- LAYOUT ----------
drawPca();
drawVenn();

put('(A)', 35, 9, 'font-family:Lato;font-size:17px;font-weight:bold;color:#111');
put('(B)', 675, 9, 'font-family:Lato;font-size:17px;font-weight:bold;color:#111');
put('(C)', 30, 538, 'font-family:Lato;font-size:17px;font-weight:bold;color:#111');
put('(D)', 1017, 556, 'font-family:Lato;font-size:17px;font-weight:bold;color:#111');

drawVolcano({
  plot: { x0: 72, y0: 595, x1: 489, y1: 949 }, xr: [-7.87, 11.44], yr: [-.645, 13.63], xStep: 5, top: 10.4,
  points: volcCtrlPoints, cloud: volcCtrlCloud, labels: volcCtrlLabels,
  title: ['Control_WT vs PXR-KO', 81, 574, 18.6], xTitle: ['log2FC', 252, 978], yTitle: ['-log10 FDR (Control _WT vs PXR-KO', 39, 762],
  key: { x0: 281, x1: 359, y0: 999, min: .16, max: 10.3, ticks: [2.5, 5, 7.5, 10], fmt: v => v.toFixed(1), right: 275 }
});
drawVolcano({
  plot: { x0: 552, y0: 595, x1: 969, y1: 949 }, xr: [-8.7, 10.7], yr: [-.645, 13.63], xStep: 5, top: 11.3,
  points: volcHfdPoints, cloud: volcHfdCloud, labels: volcHfdLabels, leader: volcHfdLeader,
  title: ['HFD_WT vs PXR-KO', 553, 574, 18.6], xTitle: ['log2FC', 746, 982], yTitle: ['-log10 FDR (HFD_WT vs PXR-KO', 524, 792],
  key: { x0: 760, x1: 839, y0: 999, min: 0, max: 11.3, ticks: [3, 6, 9], fmt: v => String(v), right: 755 }
});
drawVolcano({
  plot: { x0: 1035, y0: 600, x1: 1450, y1: 953 }, xr: [-4, 4.9], yr: [-.65, 13.62], xStep: 2, top: 4.4,
  points: volcWtPoints, cloud: volcWtCloud, labels: volcWtLabels,
  title: ['WT_Control vs HFD', 1043, 581, 22], xTitle: ['log2FC', 1224, 979], yTitle: ['-log10 FDR (WT_Control vs HFD)', 1007, 764],
  key: { x0: 1242, x1: 1321, y0: 1003, min: 0, max: 4.4, ticks: [1, 2, 3, 4], fmt: v => String(v), right: 1237 }
});
drawVolcano({
  plot: { x0: 1517, y0: 600, x1: 1933, y1: 953 }, xr: [-3.73, 3.2], yr: [-.65, 13.62], xStep: 2, top: 1.7,
  points: volcKoPoints, cloud: volcKoCloud, labels: volcKoLabels,
  title: ['PXR-KO_Control vs HFD', 1524, 582, 22], xTitle: ['log2FC', 1768, 980], yTitle: ['-log10 FDR (PXR-KO_Control vs HFD)', 1489, 778],
  key: { x0: 1724, x1: 1804, y0: 1003, min: 0, max: 1.7, ticks: [0, .4, .8, 1.2, 1.6], fmt: v => v.toFixed(1), right: 1719 }
});

drawHeat({
  plot: { x0: 65, y0: 1077, x1: 308, y1: 1464 }, genes: genesE, samples: samplesE, matrix: heatE, tree: treeE, dendroW: 45, scale: .05,
  key: { x0: 359, y0: 1077, y1: 1206, min: -1.92, max: 1.95, bin: .387, ticks: keyTicksE }, letter: ['(E)', 32, 1046]
});
drawHeat({
  plot: { x0: 491, y0: 1081, x1: 720, y1: 1448 }, genes: genesF, samples: samplesF, matrix: heatF, tree: treeF, dendroW: 46, scale: .06,
  key: { x0: 789, y0: 1081, y1: 1211, min: -2.11, max: 2.1, bin: .42, ticks: keyTicksF }, letter: ['(F)', 429, 1046]
});
drawHeat({
  plot: { x0: 997, y0: 1070, x1: 1227, y1: 1448 }, genes: genesG, samples: samplesG, matrix: heatG, tree: treeG, dendroW: 47, scale: .035,
  key: { x0: 1299, y0: 1070, y1: 1202, min: -1.48, max: 1.49, bin: .297, ticks: keyTicksG }, letter: ['(G)', 930, 1047]
});
drawHeat({
  plot: { x0: 1482, y0: 1067, x1: 1726, y1: 1450 }, genes: genesH, samples: samplesH, matrix: heatH, tree: treeH, dendroW: 49, scale: .03,
  key: { x0: 1803, y0: 1067, y1: 1200, min: -1.64, max: 1.59, bin: .323, ticks: keyTicksH }, letter: ['(H)', 1405, 1044]
});
</script>
</body>
</html>
